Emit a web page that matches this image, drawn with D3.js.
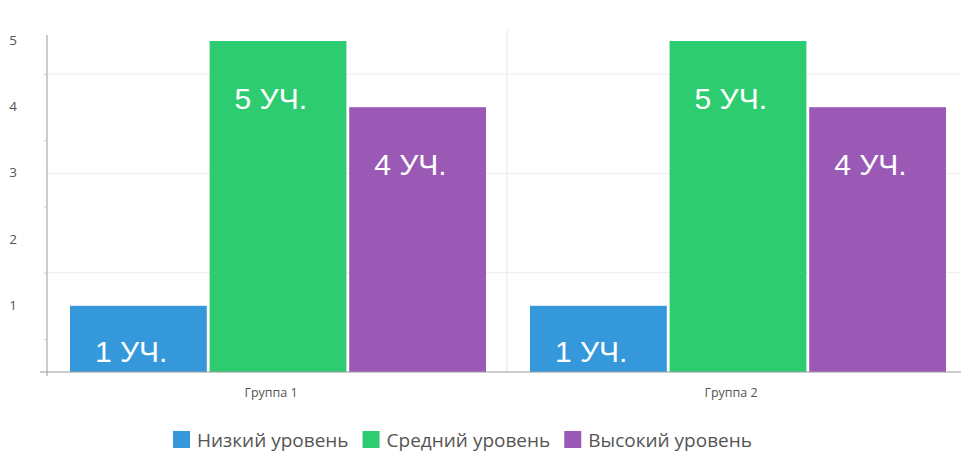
<!DOCTYPE html>
<meta charset="utf-8">
<style>
body { margin: 0; background: #fff; }
.tick-label { font-family: "Open Sans", sans-serif; font-size: 12.5px; fill: #555; }
.y-label { font-size: 13.5px; }
.bar-label { font-family: "Liberation Sans", Arial, sans-serif; font-size: 30px; fill: #fff; }
.legend text { font-family: "Open Sans", sans-serif; font-size: 19px; fill: #555; }
.grid line { stroke: #ececec; stroke-width: 1px; }
</style>
<svg width="961" height="468"></svg>
<script src="https://d3js.org/d3.v7.min.js"></script>
<script>
var groups = ["Группа 1", "Группа 2"];
var series = ["Низкий уровень", "Средний уровень", "Высокий уровень"];
var colors = ["#3498db", "#2ecc71", "#9b59b6"];
var values = [[1, 5, 4], [1, 5, 4]];
var yTicks = [1, 2, 3, 4, 5];
var gridValues = [1.5, 3, 4.5];
var unit = " УЧ.";

var svg = d3.select("svg"),
    margin = {top: 41, left: 47, bottom: 96},
    height = +svg.attr("height") - margin.bottom;

var y = d3.scaleLinear().domain([0, 5]).range([372, margin.top]);
var x0 = d3.scaleBand().domain(groups).range([margin.left, 967]);
var x1 = d3.scaleBand().domain(series).range([23, x0.bandwidth() - 21]).paddingInner(0.02);

// grid
svg.append("g").attr("class", "grid")
  .selectAll("line").data(gridValues).enter().append("line")
    .attr("x1", margin.left).attr("x2", 961)
    .attr("y1", d => y(d)).attr("y2", d => y(d));

svg.append("line")
    .attr("x1", x0(groups[1])).attr("x2", x0(groups[1]))
    .attr("y1", 30).attr("y2", y(0))
    .attr("stroke", "#e6e6e6");

// bars
var g = svg.selectAll(".group").data(values).enter().append("g")
    .attr("transform", (d, i) => "translate(" + x0(groups[i]) + ",0)");

g.selectAll("rect").data(d => d).enter().append("rect")
    .attr("x", (d, j) => x1(series[j]))
    .attr("y", d => y(d))
    .attr("width", x1.bandwidth())
    .attr("height", d => y(0) - y(d))
    .attr("fill", (d, j) => colors[j]);

g.selectAll("text").data(d => d).enter().append("text")
    .attr("class", "bar-label")
    .attr("x", (d, j) => x1(series[j]) + 25)
    .attr("y", d => Math.min(y(d) + 68, y(0) - 10))
    .text(d => d + unit);

// y axis
var yAxis = svg.append("g")
    .attr("transform", "translate(" + margin.left + ",0)")
    .call(d3.axisLeft(y).tickValues([0.5, 1.5, 2.5, 3.5, 4.5]).tickSize(3).tickFormat(""));
yAxis.select(".domain").attr("stroke", "#999").attr("d", "M0,35V376");
yAxis.selectAll(".tick line").attr("stroke", "#ccc");

svg.append("g").selectAll("text").data(yTicks).enter().append("text")
    .attr("class", "tick-label y-label")
    .attr("x", 13).attr("text-anchor", "middle")
    .attr("y", d => y(d) + 4)
    .text(d => d);

// x axis
var xAxis = svg.append("g")
    .attr("transform", "translate(0," + y(0) + ")")
    .call(d3.axisBottom(x0).tickSize(0).tickPadding(16));
xAxis.select(".domain").attr("stroke", "#999").attr("d", "M40,0H961");
xAxis.selectAll("text").attr("class", "tick-label").attr("font-size", null).attr("font-family", null)
    .attr("dx", -6);

// legend
var legend = svg.append("g").attr("class", "legend").attr("transform", "translate(0,440)");
var lx = 173;
series.forEach(function(s, i) {
  var item = legend.append("g").attr("transform", "translate(" + lx + ",0)");
  item.append("rect").attr("x", 0).attr("y", -9).attr("width", 17).attr("height", 17).attr("fill", colors[i]);
  var t = item.append("text").attr("x", 24).attr("y", 7).text(s);
  lx += 24 + t.node().getComputedTextLength() + 14;
});
</script>
